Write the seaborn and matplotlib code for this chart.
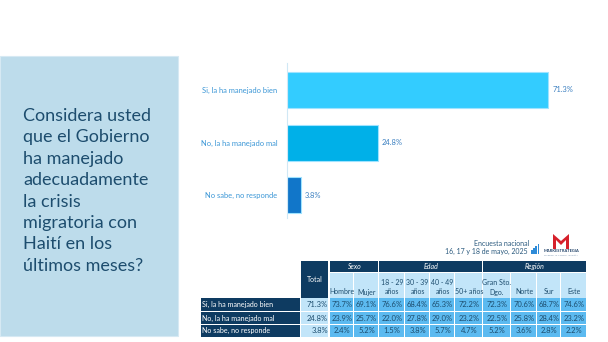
import matplotlib
matplotlib.use("Agg")
import matplotlib.pyplot as plt
import seaborn as sns
import pandas as pd
from matplotlib.patches import Rectangle, Polygon

# ---------------- data ----------------
categories = ["Si, la ha manejado bien", "No, la ha manejado mal", "No sabe, no responde"]
totals = [71.3, 24.8, 3.8]
bar_colors = ["#33CCFF", "#00B0E8", "#1176C9"]

title_lines = ["Considera usted", "que el Gobierno", "ha manejado", "adecuadamente",
               "la crisis", "migratoria con", "Haití en los", "últimos meses?"]

groups = ["Sexo", "Edad", "Región"]
group_sizes = [2, 4, 4]
col_labels = ["Hombre", "Mujer", "18 - 29\naños", "30 - 39\naños", "40 - 49\naños",
              "50+ años", "Gran Sto.\nDgo.", "Norte", "Sur", "Este"]
hombre = [73.7, 23.9, 2.4]
mujer = [69.1, 25.7, 5.2]
edad_18_29 = [76.6, 22.0, 1.5]
edad_30_39 = [68.4, 27.8, 3.8]
edad_40_49 = [65.3, 29.0, 5.7]
edad_50 = [72.2, 23.2, 4.7]
gran_sto = [72.3, 22.5, 5.2]
norte = [70.6, 25.8, 3.6]
sur = [68.7, 28.4, 2.8]
este = [74.6, 23.2, 2.2]
table_cols = [hombre, mujer, edad_18_29, edad_30_39, edad_40_49, edad_50,
              gran_sto, norte, sur, este]

survey_line1 = "Encuesta nacional"
survey_line2 = "16, 17 y 18 de mayo, 2025"

# ---------------- style ----------------
sns.set_theme(style="white")
plt.rcParams['font.family'] = ['Lato', 'DejaVu Sans']

W, H = 608, 342
fig = plt.figure(figsize=(W / 100, H / 100), dpi=100)
fig.patch.set_facecolor("white")

# overlay axes in pixel coordinates
ov = fig.add_axes([0, 0, 1, 1])
ov.set_xlim(0, W)
ov.set_ylim(H, 0)
ov.axis("off")

NAVY = "#0E3B61"
LIGHT = "#C2E5F9"
MID = "#5CBAF0"
TXT = "#1D4D6E"

# left panel
ov.add_patch(Rectangle((0, 56), 178, 280, facecolor="#BDDCEB", edgecolor="#D6E9F3", lw=0.8))
for i, line in enumerate(title_lines):
    ov.text(23, 116 + i * 21.4, line, fontsize=13.0, color="#1D4D6E", va="center", ha="left")

# ---------------- bar chart ----------------
px_per = 3.66
x0, x1 = 287, 600
y_top, y_bot = 63, 218
ax = fig.add_axes([x0 / W, 1 - y_bot / H, (x1 - x0) / W, (y_bot - y_top) / H])
df = pd.DataFrame({"cat": categories, "val": totals})
sns.barplot(data=df, x="val", y="cat", hue="cat", palette=bar_colors, orient="h",
            width=0.68, legend=False, ax=ax, edgecolor="#9FE3FF", linewidth=0.8,
            saturation=1)
ax.set_xlim(0, (x1 - x0) / px_per)
ax.set_ylim(2.43, -0.51)
ax.set_xlabel("")
ax.set_ylabel("")
ax.set_xticks([])
for s in ["top", "right", "bottom"]:
    ax.spines[s].set_visible(False)
ax.spines["left"].set_color("#D0E8F5")
ax.spines["left"].set_linewidth(0.8)
ax.tick_params(axis="y", length=0, pad=7, labelsize=5.4, labelcolor="#3A96D6")
ax.set_facecolor("none")
for cont in ax.containers:
    ax.bar_label(cont, fmt="%.1f%%", padding=3, fontsize=5.4, color="#3A7FC0")

# ---------------- table ----------------
col_edges = [330, 354, 379, 405, 430, 455, 483, 511, 537, 561, 587]
rows_y = [(298, 311.2), (312, 323.8), (324.6, 336.5)]
gap = 0.8

# header
ov.add_patch(Rectangle((300.7, 261), 329 - 300.7 - gap, 36.5, facecolor=NAVY, lw=0))
ov.text((300.7 + 329) / 2, 280, "Total", fontsize=5.0, color="white", ha="center", va="center")
ci = 0
for g, n in zip(groups, group_sizes):
    xa, xb = col_edges[ci], col_edges[ci + n]
    ov.add_patch(Rectangle((xa, 261), xb - xa - gap, 11, facecolor=NAVY, lw=0))
    ov.text((xa + xb) / 2, 266.5, g, fontsize=5.0, color="white", ha="center", va="center",
            style="italic")
    ci += n
for j, lab in enumerate(col_labels):
    xa, xb = col_edges[j], col_edges[j + 1]
    ov.add_patch(Rectangle((xa, 272.5), xb - xa - gap, 25, facecolor=LIGHT, lw=0))
    ov.text((xa + xb) / 2, 295.5, lab, fontsize=5.0, color=TXT, ha="center", va="bottom",
            linespacing=1.35)

# rows
for r, (ya, yb) in enumerate(rows_y):
    ov.add_patch(Rectangle((200.7, ya), 300 - 200.7, yb - ya, facecolor=NAVY, lw=0))
    ov.text(202, (ya + yb) / 2 + 0.3, categories[r], fontsize=5.1, color="white",
            ha="left", va="center")
    ov.add_patch(Rectangle((300.7, ya), 329 - 300.7 - gap, yb - ya, facecolor=LIGHT, lw=0))
    ov.text(329 - 1.2, (ya + yb) / 2 + 0.3, f"{totals[r]:.1f}%", fontsize=5.5,
            color=TXT, ha="right", va="center")
    for j, col in enumerate(table_cols):
        xa, xb = col_edges[j], col_edges[j + 1]
        ov.add_patch(Rectangle((xa, ya), xb - xa - gap, yb - ya, facecolor=MID, lw=0))
        ov.text((xa + xb) / 2, (ya + yb) / 2 + 0.3, f"{col[r]:.1f}%", fontsize=5.5,
                color=TXT, ha="center", va="center")

# survey caption
ov.text(502, 243, survey_line1, fontsize=5.0, color="#2B5A7E", ha="center", va="center")
ov.text(528, 251, survey_line2, fontsize=5.0, color="#2B5A7E", ha="right", va="center")

# logo (approximation)
for k, hgt in enumerate([4, 6, 8, 10]):
    ov.add_patch(Rectangle((531 + k * 2.2, 254 - hgt), 1.6, hgt, facecolor="#2E8BD8", lw=0))
ov.add_patch(Polygon([(553, 249), (553, 234), (561, 241), (569, 234), (569, 249),
                      (566, 249), (566, 240), (561, 245), (556, 240), (556, 249)],
                     closed=True, facecolor="#D6202B", lw=0))
ov.text(561, 251.5, "MARKESTRATEGIA", fontsize=2.9, color="#1D3F66", ha="center",
        va="center", weight="bold")
ov.text(561, 255, "MARKETING Y COMUNICACIÓN", fontsize=1.6, color="#6E8AA8", ha="center",
        va="center")

fig.savefig("out.png", dpi=100)
